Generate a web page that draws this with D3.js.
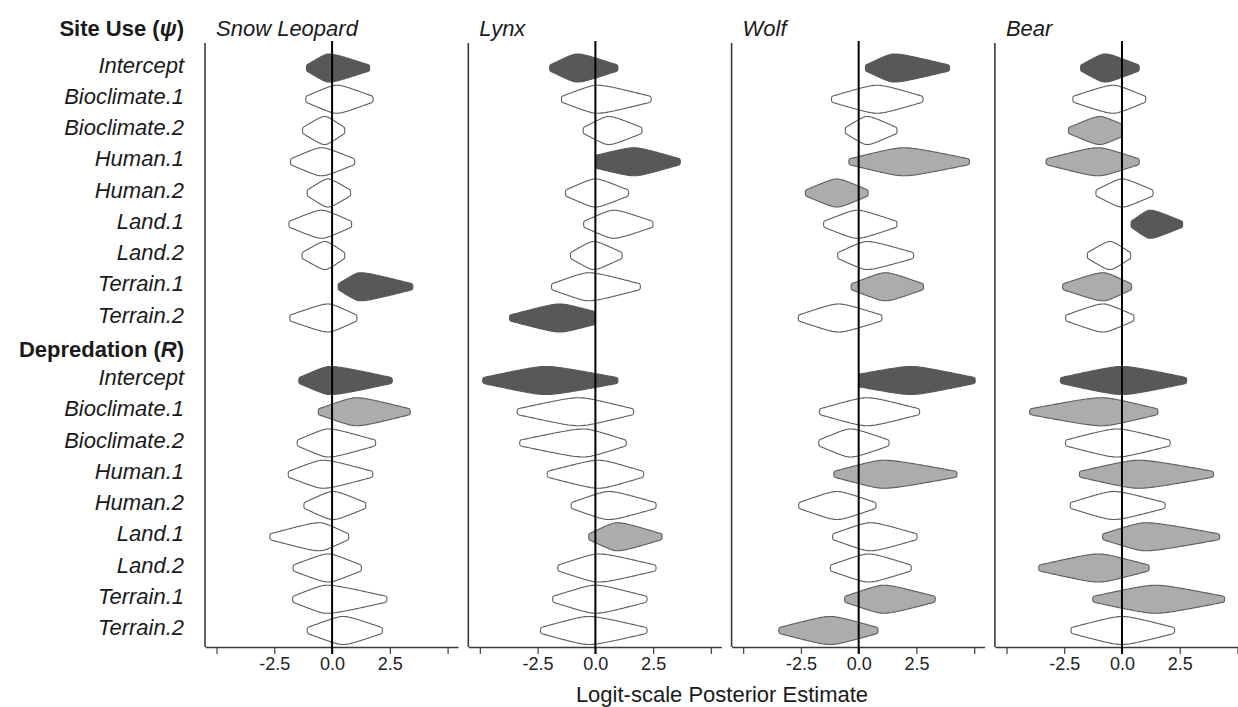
<!DOCTYPE html>
<html>
<head>
<meta charset="utf-8">
<script src="https://cdn.jsdelivr.net/npm/d3@7"></script>
<style>
body { margin: 0; background: #fff; }
svg { font-family: "Liberation Sans", Arial, Helvetica, sans-serif; }
</style>
</head>
<body>
<div id="chart"></div>
<script>
"use strict"
var species = ["Snow Leopard", "Lynx", "Wolf", "Bear"];
var terms = ["Intercept", "Bioclimate.1", "Bioclimate.2", "Human.1", "Human.2",
    "Land.1", "Land.2", "Terrain.1", "Terrain.2"];
var xTickValues = [-5, -2.5, 0, 2.5, 5];
var xTickLabels = ["", "-2.5", "0.0", "2.5", ""];

// [lower end, mode, upper end] of each posterior: 9 site use rows, then 9 depredation rows
var snowLeopard = [
    [-1.11, -0.15, 1.63], [-1.14, 0.2, 1.78], [-1.28, -0.32, 0.55], [-1.8, -0.46, 0.98], [-1.08, -0.18, 0.8],
    [-1.87, -0.45, 0.85], [-1.3, -0.3, 0.55], [0.26, 1.2, 3.5], [-1.83, -0.17, 1.08],
    [-1.44, -0.1, 2.61], [-0.6, 1.05, 3.39], [-1.51, -0.17, 1.89], [-1.9, -0.39, 1.77], [-1.22, 0.04, 1.46],
    [-2.7, -0.53, 0.72], [-1.69, -0.17, 1.27], [-1.71, -0.24, 2.38], [-1.08, 0.48, 2.18]
];
var lynx = [
    [-1.98, -0.79, 0.98], [-1.47, 0.07, 2.42], [-0.53, 0.58, 2.02], [0, 1.66, 3.68], [-1.3, 0, 1.44],
    [-0.51, 0.79, 2.5], [-1.08, -0.07, 1.16], [-1.9, -0.29, 1.95], [-3.72, -1.52, 0],
    [-4.88, -2.16, 0.98], [-3.39, -0.72, 1.66], [-3.28, -0.5, 1.34], [-2.09, 0.14, 2.09], [-1.05, 0.58, 2.63],
    [-0.29, 0.94, 2.89], [-1.63, 0.14, 2.63], [-1.85, 0, 2.24], [-2.38, -0.29, 2.24]
];
var wolf = [
    [0.29, 1.52, 3.94], [-1.18, 0.8, 2.79], [-0.58, 0.36, 1.66], [-0.43, 1.95, 4.8], [-2.31, -0.94, 0.41],
    [-1.52, -0.07, 1.66], [-0.91, 0.36, 2.38], [-0.33, 1.16, 2.81], [-2.62, -0.87, 1.01],
    [0, 2.24, 5.05], [-1.7, 0.36, 2.64], [-1.73, -0.36, 1.32], [-1.08, 1.08, 4.26], [-2.6, -0.94, 0.75],
    [-1.13, 0.51, 2.53], [-1.23, 0.43, 2.28], [-0.61, 1.08, 3.32], [-3.46, -1.23, 0.84]
];
var bear = [
    [-1.79, -0.74, 0.75], [-2.13, -0.38, 1.03], [-2.32, -0.95, 0], [-3.29, -1.03, 0.75], [-1.13, 0, 1.35],
    [0.39, 1.21, 2.63], [-1.5, -0.52, 0.38], [-2.57, -0.81, 0.42], [-2.44, -0.81, 0.52],
    [-2.67, 0, 2.81], [-4.0, -0.87, 1.56], [-2.45, -0.22, 2.09], [-1.85, 0.72, 3.97], [-2.24, -0.36, 1.87],
    [-0.84, 1.01, 4.23], [-3.61, -1.01, 1.18], [-1.27, 1.44, 4.45], [-2.21, 0, 2.28]
];
// d = dark, g = grey, w = open
var snowLeopardFill = ["d", "w", "w", "w", "w", "w", "w", "d", "w", "d", "g", "w", "w", "w", "w", "w", "w", "w"];
var lynxFill = ["d", "w", "w", "d", "w", "w", "w", "w", "d", "d", "w", "w", "w", "w", "g", "w", "w", "w"];
var wolfFill = ["d", "w", "w", "g", "g", "w", "w", "g", "w", "d", "w", "w", "g", "w", "w", "w", "g", "g"];
var bearFill = ["d", "w", "g", "g", "w", "d", "w", "g", "w", "d", "g", "w", "g", "w", "g", "g", "g", "w"];

var posteriors = [snowLeopard, lynx, wolf, bear];
var fills = [snowLeopardFill, lynxFill, wolfFill, bearFill];

var width = 1238;
var height = 707;
var panelLeft = 205;
var panelStep = 263.3;
var panelWidth = 253;
var panelTop = 43;
var panelBottom = 647;
var labelRight = 184;
var halfHeight = 14;
var fillColor = { d: "#58585a", g: "#acacac", w: "#ffffff" };
var strokeColor = { d: "#58585a", g: "#5e5e5e", w: "#5e5e5e" };

var svg = d3.select("#chart").append("svg")
    .attr("width", width)
    .attr("height", height);

// 19 slots: 9 site use rows, the depredation header, 9 depredation rows
var yScale = d3.scalePoint().domain(d3.range(19)).range([68, 630.5]);
function slot(j) { return j < 9 ? j : j + 1; }

var outline = d3.line().curve(d3.curveBasisClosed);

// half-width from a tip (t = 0) to the mode (t = 1): straight flank, rounded top
function profile(t, tip) {
    var c = 0.2;
    var u = 1 - t;
    var g = (Math.sqrt(u * u + c * c) - c) / (Math.sqrt(1 + c * c) - c);
    return tip + (1 - tip) * (1 - g);
}

// outline of one violin around its mode
function violin(v, xScale, yc) {
    var lo = v[0], mode = v[1], hi = v[2];
    var tipLo = lo === 0 ? 0.45 : 0.2;
    var tipHi = hi === 0 ? 0.45 : 0.2;
    var n = 30;
    var side = [];
    for (var i = 0; i <= n; i++) {
        var t = i / n;
        side.push([lo + (mode - lo) * t, profile(t, tipLo)]);
    }
    for (var k = 1; k <= n; k++) {
        var s = k / n;
        side.push([mode + (hi - mode) * s, profile(1 - s, tipHi)]);
    }
    var upper = side.map(function (p) { return [xScale(p[0]), yc - p[1] * halfHeight]; });
    var lower = side.slice().reverse().map(function (p) { return [xScale(p[0]), yc + p[1] * halfHeight]; });
    return outline(upper.concat(lower));
}

species.forEach(function (name, i) {
    var xScale = d3.scaleLinear().domain([-5.5, 5.45]).range([0, panelWidth]);
    var g = svg.append("g")
        .attr("transform", "translate(" + (panelLeft + i * panelStep) + ",0)");

    g.selectAll(".violin")
        .data(posteriors[i])
        .enter()
        .append("path")
        .attr("class", "violin")
        .attr("d", function (d, j) { return violin(d, xScale, yScale(slot(j))); })
        .attr("fill", function (d, j) { return fillColor[fills[i][j]]; })
        .attr("stroke", function (d, j) { return strokeColor[fills[i][j]]; })
        .attr("stroke-width", 1.1)
        .attr("stroke-linejoin", "round");

    // left frame line
    g.append("line")
        .attr("x1", 0).attr("x2", 0)
        .attr("y1", panelTop).attr("y2", panelBottom)
        .attr("stroke", "#3a3a3a")
        .attr("stroke-width", 1.6);

    var axis = g.append("g")
        .attr("transform", "translate(0," + panelBottom + ")")
        .call(d3.axisBottom(xScale)
            .tickValues(xTickValues)
            .tickFormat(function (d, k) { return xTickLabels[k]; })
            .tickSize(7)
            .tickSizeOuter(0));
    axis.select(".domain").attr("stroke", "#3a3a3a").attr("stroke-width", 1.6);
    axis.selectAll(".tick line").attr("stroke", "#4a4a4a").attr("stroke-width", 1.3);
    axis.selectAll(".tick text")
        .attr("font-size", 18)
        .attr("font-family", "Liberation Sans, Arial, sans-serif")
        .attr("fill", "#222");

    // zero reference line, drawn over the violins
    g.append("line")
        .attr("x1", xScale(0)).attr("x2", xScale(0))
        .attr("y1", panelTop - 2).attr("y2", panelBottom + 7)
        .attr("stroke", "#000")
        .attr("stroke-width", 2);

    g.append("text")
        .attr("x", 11)
        .attr("y", 36)
        .attr("font-size", 22)
        .attr("font-style", "italic")
        .attr("fill", "#1a1a1a")
        .text(name);
});

// row labels
var labels = svg.append("g")
    .attr("font-size", 22)
    .attr("fill", "#1a1a1a")
    .attr("text-anchor", "end");

labels.selectAll(".term")
    .data(terms.concat(terms))
    .enter()
    .append("text")
    .attr("class", "term")
    .attr("x", labelRight)
    .attr("y", function (d, j) { return yScale(slot(j)) - 3; })
    .attr("dy", "0.35em")
    .attr("font-style", "italic")
    .text(function (d) { return d; });

var siteHead = labels.append("text")
    .attr("x", labelRight)
    .attr("y", 36)
    .attr("font-weight", "bold");
siteHead.append("tspan").text("Site Use (");
siteHead.append("tspan").attr("font-style", "italic").text("ψ");
siteHead.append("tspan").text(")");

var depHead = labels.append("text")
    .attr("x", labelRight)
    .attr("y", yScale(9))
    .attr("dy", "0.35em")
    .attr("font-weight", "bold");
depHead.append("tspan").text("Depredation (");
depHead.append("tspan").attr("font-style", "italic").text("R");
depHead.append("tspan").text(")");

svg.append("text")
    .attr("x", 722)
    .attr("y", 702)
    .attr("text-anchor", "middle")
    .attr("font-size", 22)
    .attr("fill", "#1a1a1a")
    .text("Logit-scale Posterior Estimate");
</script>
</body>
</html>
